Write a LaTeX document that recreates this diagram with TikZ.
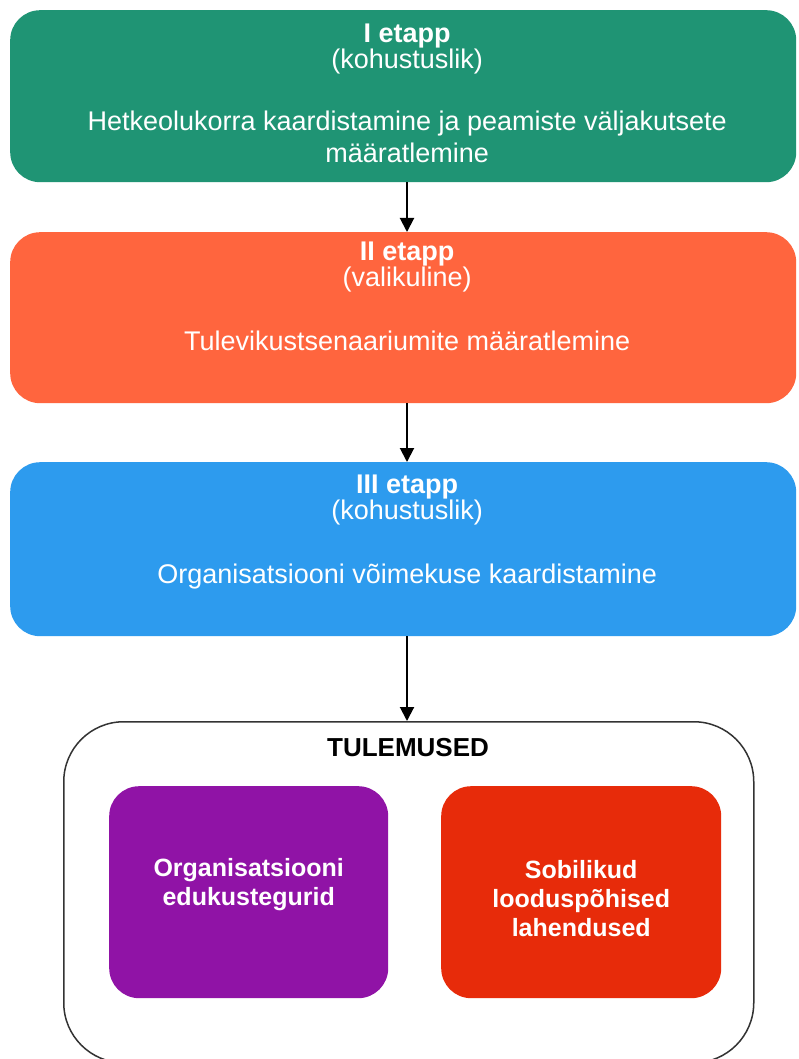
\documentclass[tikz,border=0pt]{standalone}
\usepackage{fontspec}
\setmainfont{Liberation Sans}
\usetikzlibrary{arrows.meta}
\definecolor{cgreen}{HTML}{1F9474}
\definecolor{corange}{HTML}{FF653E}
\definecolor{cblue}{HTML}{2D9BEE}
\definecolor{cpurple}{HTML}{9013A6}
\definecolor{cred}{HTML}{E72B0A}
\definecolor{cframe}{HTML}{333333}
\begin{document}
\begin{tikzpicture}[x=1pt,y=-1pt,
  stagebox/.style={rectangle, rounded corners=30pt, minimum width=786pt, inner sep=0pt, anchor=north west},
  stagetext/.style={text=white, align=center, inner sep=0pt, anchor=north, font=\fontsize{27}{32}\selectfont},
  resbox/.style={rectangle, rounded corners=30pt, minimum width=279pt, minimum height=212pt, inner sep=0pt, anchor=north west},
  restext/.style={text=white, align=center, inner sep=0pt, font=\fontsize{25}{29}\selectfont\bfseries},
  arr/.style={line width=2pt, -{Triangle[width=14pt,length=14pt]}}
]
\clip (0,0) rectangle (798,1059);
\fill[white] (0,0) rectangle (798,1059);

\node[stagebox, fill=cgreen, minimum height=172pt] (b1) at (10,10) {};
\node[stagebox, fill=corange, minimum height=171pt] (b2) at (10,232) {};
\node[stagebox, fill=cblue, minimum height=174pt] (b3) at (10,462) {};

\node[stagetext] (t1) at ([xshift=4pt,yshift=-14pt]b1.north) {{\bfseries I etapp}\\[-6pt](kohustuslik)\\[30pt]Hetkeolukorra kaardistamine ja peamiste väljakutsete\\määratlemine};
\node[stagetext] (t2) at ([xshift=4pt,yshift=-10pt]b2.north) {{\bfseries II etapp}\\[-6pt](valikuline)\\[32pt]Tulevikustsenaariumite määratlemine};
\node[stagetext] (t3) at ([xshift=4pt,yshift=-13pt]b3.north) {{\bfseries III etapp}\\[-6pt](kohustuslik)\\[32pt]Organisatsiooni võimekuse kaardistamine};

\node[rectangle, rounded corners=60pt, draw=cframe, line width=1.5pt, minimum width=690pt, minimum height=341pt, inner sep=0pt, anchor=north west] (out) at (63,721) {};
\node[font=\fontsize{26}{30}\selectfont\bfseries, text=black, inner sep=0pt] (tul) at (408,748) {TULEMUSED};

\node[resbox, fill=cpurple] (r1) at (109,786) {};
\node[resbox, fill=cred, minimum width=280pt] (r2) at (441,786) {};
\node[restext] (rt1) at ([yshift=8pt]r1.center) {Organisatsiooni\\edukustegurid};
\node[restext] (rt2) at ([yshift=-6pt]r2.center) {Sobilikud\\looduspõhised\\lahendused};

\coordinate (ax) at (407,0);
\draw[arr] (b1.south -| ax) -- (b2.north -| ax);
\draw[arr] (b2.south -| ax) -- (b3.north -| ax);
\draw[arr] (b3.south -| ax) -- (out.north -| ax);
\end{tikzpicture}
\end{document}
